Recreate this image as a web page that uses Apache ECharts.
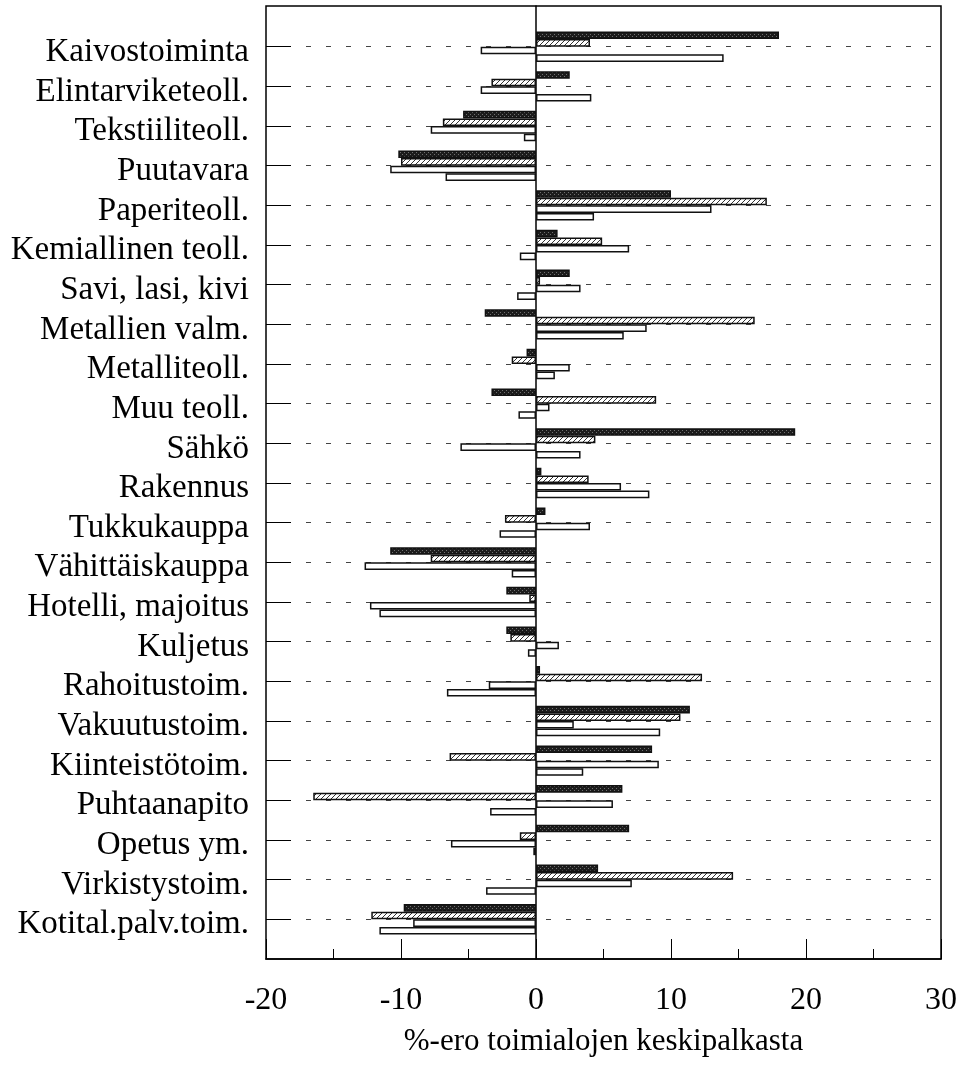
<!DOCTYPE html>
<html>
<head>
<meta charset="utf-8">
<script src="https://cdn.jsdelivr.net/npm/echarts@6/dist/echarts.min.js"></script>
<style>
  html, body { margin: 0; padding: 0; background: #fff; }
  #main { width: 961px; height: 1071px; }
</style>
</head>
<body>
<div id="main"></div>
<script>
const categories = ['Kaivostoiminta', 'Elintarviketeoll.', 'Tekstiiliteoll.', 'Puutavara', 'Paperiteoll.',
    'Kemiallinen teoll.', 'Savi, lasi, kivi', 'Metallien valm.', 'Metalliteoll.', 'Muu teoll.', 'Sähkö',
    'Rakennus', 'Tukkukauppa', 'Vähittäiskauppa', 'Hotelli, majoitus', 'Kuljetus', 'Rahoitustoim.',
    'Vakuutustoim.', 'Kiinteistötoim.', 'Puhtaanapito', 'Opetus ym.', 'Virkistystoim.', 'Kotital.palv.toim.'];

// four bars per industry, top to bottom
const darkValues = [18.0, 2.5, -5.4, -10.2, 10.0, 1.6, 2.5, -3.8, -0.7, -3.3, 19.2, 0.4, 0.7, -10.8, -2.2, -2.2, 0.3, 11.4, 8.6, 6.4, 6.9, 4.6, -9.8];
const hatchValues = [4.0, -3.3, -6.9, -10.0, 17.1, 4.9, 0.3, 16.2, -1.8, 8.9, 4.4, 3.9, -2.3, -7.8, -0.5, -1.9, 12.3, 10.7, -6.4, -16.5, -1.2, 14.6, -12.2];
const white1Values = [-4.1, -4.1, -7.8, -10.8, 13.0, 6.9, 3.3, 8.2, 2.5, 1.0, -5.6, 6.3, 4.0, -12.7, -12.3, 1.7, -3.5, 2.8, 9.1, 5.7, -6.3, 7.1, -9.1];
const white2Values = [13.9, 4.1, -0.9, -6.7, 4.3, -1.2, -1.4, 6.5, 1.4, -1.3, 3.3, 8.4, -2.7, -1.8, -11.6, -0.6, -6.6, 9.2, 3.5, -3.4, -0.2, -3.7, -11.6];

const xTicks = { min: -20, max: 30, interval: 10 };
const axisName = '%-ero toimialojen keskipalkasta';

const FONT = 'Liberation Serif';

function darkPattern() {
    let c = document.createElement('canvas');
    c.width = 4; c.height = 4;
    let ctx = c.getContext('2d');
    ctx.fillStyle = '#1c1c1c';
    ctx.fillRect(0, 0, 4, 4);
    ctx.fillStyle = '#707070';
    ctx.fillRect(0, 0, 1, 1);
    ctx.fillRect(2, 2, 1, 1);
    return { image: c, repeat: 'repeat' };
}

function hatchPattern() {
    let c = document.createElement('canvas');
    c.width = 5; c.height = 5;
    let ctx = c.getContext('2d');
    ctx.fillStyle = '#fff';
    ctx.fillRect(0, 0, 5, 5);
    ctx.strokeStyle = '#333';
    ctx.lineWidth = 1;
    ctx.beginPath();
    ctx.moveTo(-1, 6); ctx.lineTo(6, -1);
    ctx.stroke();
    return { image: c, repeat: 'repeat' };
}

let chart = echarts.init(document.getElementById('main'));

function barSeries(data, fill) {
    return {
        type: 'bar',
        xAxisIndex: 1,
        yAxisIndex: 1,
        data: data,
        barWidth: 7.6,
        barGap: '0%',
        clip: false,
        silent: true,
        itemStyle: { color: fill, borderColor: '#111', borderWidth: 1.5 }
    };
}

let option = {
    backgroundColor: '#fff',
    animation: false,
    grid: [
        // frame
        { left: 266, right: 20, top: 6, bottom: 112, show: true, borderColor: '#000', borderWidth: 1.5, backgroundColor: 'transparent' },
        // bars (category centres from first to last gridline)
        { left: 266, right: 20, top: 46.7, bottom: 151.7 }
    ],
    xAxis: [
        {
            gridIndex: 0,
            type: 'value',
            min: xTicks.min, max: xTicks.max, interval: xTicks.interval,
            axisLine: { show: true, lineStyle: { color: '#000', width: 1.5 } },
            axisTick: { show: true, inside: true, length: 20, lineStyle: { color: '#000', width: 1 } },
            minorTick: { show: true, splitNumber: 2, length: 10, lineStyle: { color: '#000', width: 1 } },
            splitLine: { show: false },
            axisLabel: { fontFamily: FONT, fontSize: 32, color: '#000', margin: 26 },
            name: axisName,
            nameLocation: 'middle',
            nameGap: 67,
            nameTextStyle: { fontFamily: FONT, fontSize: 31, color: '#000' }
        },
        {
            gridIndex: 1,
            type: 'value',
            min: xTicks.min, max: xTicks.max,
            show: false
        }
    ],
    yAxis: [
        {
            gridIndex: 0,
            type: 'value',
            min: 0, max: 1,
            axisLine: { show: true, onZero: true, lineStyle: { color: '#000', width: 1.5 } },
            axisTick: { show: false },
            axisLabel: { show: false },
            splitLine: { show: false }
        },
        {
            gridIndex: 1,
            type: 'category',
            data: categories,
            inverse: true,
            boundaryGap: false,
            axisLine: { show: false, onZero: false },
            axisTick: { show: true, inside: true, length: 25, lineStyle: { color: '#000', width: 1 } },
            axisLabel: {
                interval: 0,
                fontFamily: FONT,
                fontSize: 33,
                color: '#000',
                margin: 17,
                verticalAlign: 'top',
                lineHeight: 11
            },
            splitLine: { show: true, lineStyle: { color: '#444', width: 1, type: [5, 15] } }
        }
    ],
    series: [
        barSeries(darkValues, darkPattern()),
        barSeries(hatchValues, hatchPattern()),
        barSeries(white1Values, '#fff'),
        barSeries(white2Values, '#fff')
    ]
};

chart.setOption(option);
</script>
</body>
</html>
